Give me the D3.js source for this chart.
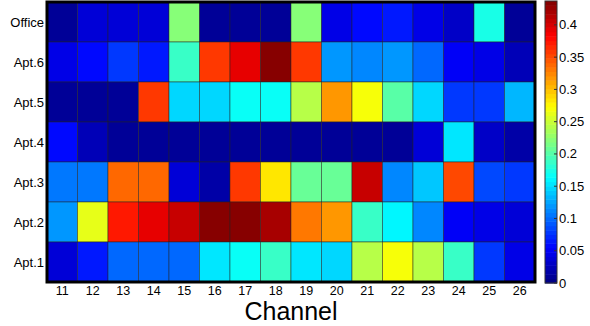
<!DOCTYPE html>
<html>
<head>
<meta charset="utf-8">
<script src="https://cdn.jsdelivr.net/npm/d3@7"></script>
<style>
  body { margin: 0; background: #fff; }
  text { font-family: "Liberation Sans", Arial, sans-serif; fill: #000; }
</style>
</head>
<body>
<svg id="chart" width="590" height="326"></svg>
<script>
const channels = [11, 12, 13, 14, 15, 16, 17, 18, 19, 20, 21, 22, 23, 24, 25, 26];
const locations = ['Office', 'Apt.6', 'Apt.5', 'Apt.4', 'Apt.3', 'Apt.2', 'Apt.1'];

// one row per location, one value per channel
const office = [0.01, 0.04, 0.04, 0.035, 0.22, 0.01, 0.01, 0.01, 0.22, 0.045, 0.06, 0.065, 0.045, 0.03, 0.175, 0.01];
const apt6 = [0.045, 0.058, 0.077, 0.062, 0.19, 0.36, 0.395, 0.437, 0.36, 0.12, 0.11, 0.12, 0.098, 0.05, 0.045, 0.025];
const apt5 = [0.01, 0.01, 0.008, 0.36, 0.15, 0.15, 0.164, 0.165, 0.245, 0.315, 0.268, 0.2, 0.148, 0.077, 0.08, 0.13];
const apt4 = [0.055, 0.025, 0.012, 0.012, 0.01, 0.01, 0.01, 0.01, 0.01, 0.01, 0.01, 0.01, 0.04, 0.155, 0.03, 0.02];
const apt3 = [0.105, 0.105, 0.338, 0.335, 0.04, 0.018, 0.36, 0.285, 0.207, 0.207, 0.405, 0.113, 0.142, 0.355, 0.085, 0.077];
const apt2 = [0.12, 0.26, 0.375, 0.395, 0.405, 0.437, 0.437, 0.422, 0.33, 0.315, 0.186, 0.16, 0.113, 0.05, 0.045, 0.04];
const apt1 = [0.04, 0.062, 0.098, 0.1, 0.098, 0.155, 0.165, 0.19, 0.155, 0.145, 0.24, 0.273, 0.24, 0.19, 0.077, 0.045];
const rows = [office, apt6, apt5, apt4, apt3, apt2, apt1];

const colorMax = 0.437;
const cbTicks = [0, 0.05, 0.1, 0.15, 0.2, 0.25, 0.3, 0.35, 0.4];

const svg = d3.select('#chart');
const margin = { left: 47, top: 2, right: 55, bottom: 44 };
const width = 535 - margin.left;
const height = 282 - margin.top;

// MATLAB-style jet, 64 levels
const jet = t => {
  const c = v => Math.max(0, Math.min(1, v));
  const r = c(1.5 - Math.abs(4 * t - 3));
  const g = c(1.5 - Math.abs(4 * t - 2));
  const b = c(1.5 - Math.abs(4 * t - 1));
  return d3.rgb(r * 255, g * 255, b * 255).toString();
};
const nLevels = 64;
const color = v => {
  const idx = Math.min(nLevels - 1, Math.floor((v / colorMax) * nLevels));
  return jet((idx + 0.5) / nLevels);
};

const x = d3.scaleBand().domain(channels).range([0, width]);
const y = d3.scaleBand().domain(locations).range([0, height]);

const g = svg.append('g').attr('transform', `translate(${margin.left},${margin.top})`);

const cells = [];
rows.forEach((vals, i) => vals.forEach((v, j) => cells.push({ loc: locations[i], ch: channels[j], v })));

g.selectAll('rect.cell')
  .data(cells)
  .enter()
  .append('rect')
  .attr('class', 'cell')
  .attr('x', d => x(d.ch))
  .attr('y', d => y(d.loc))
  .attr('width', x.bandwidth())
  .attr('height', y.bandwidth())
  .attr('fill', d => color(d.v))
  .attr('stroke', '#222')
  .attr('stroke-opacity', 0.6)
  .attr('stroke-width', 0.8);

// frame
g.append('rect')
  .attr('width', width)
  .attr('height', height)
  .attr('fill', 'none')
  .attr('stroke', '#000')
  .attr('stroke-width', 3);

// x tick labels
g.selectAll('text.xt')
  .data(channels)
  .enter()
  .append('text')
  .attr('class', 'xt')
  .attr('x', d => x(d) + x.bandwidth() / 2)
  .attr('y', height + 13)
  .attr('text-anchor', 'middle')
  .style('font-size', '12.5px')
  .text(d => d);

// y tick labels
g.selectAll('text.yt')
  .data(locations)
  .enter()
  .append('text')
  .attr('class', 'yt')
  .attr('x', -3)
  .attr('y', d => y(d) + y.bandwidth() / 2)
  .attr('dy', '0.35em')
  .attr('text-anchor', 'end')
  .style('font-size', '13px')
  .text(d => d);

svg.append('text')
  .attr('x', margin.left + width / 2)
  .attr('y', 320)
  .attr('text-anchor', 'middle')
  .style('font-size', '25px')
  .text('Channel');

// Colorbar
const cbX = 545, cbW = 12, cbTop = 1, cbBottom = 283;
const cy = d3.scaleLinear().domain([0, colorMax]).range([cbBottom, cbTop]);
const levels = d3.range(nLevels);
svg.append('g')
  .selectAll('rect')
  .data(levels)
  .enter()
  .append('rect')
  .attr('x', cbX)
  .attr('y', i => cy(((i + 1) / nLevels) * colorMax))
  .attr('width', cbW)
  .attr('height', i => cy((i / nLevels) * colorMax) - cy(((i + 1) / nLevels) * colorMax) + 0.5)
  .attr('fill', i => jet((i + 0.5) / nLevels));

svg.append('rect')
  .attr('x', cbX)
  .attr('y', cbTop)
  .attr('width', cbW)
  .attr('height', cbBottom - cbTop)
  .attr('fill', 'none')
  .attr('stroke', '#333')
  .attr('stroke-width', 1);

const cbAxis = svg.append('g');
cbAxis.selectAll('line')
  .data(cbTicks)
  .enter()
  .append('line')
  .attr('x1', cbX + cbW - 3)
  .attr('x2', cbX + cbW)
  .attr('y1', d => cy(d))
  .attr('y2', d => cy(d))
  .attr('stroke', '#333');
cbAxis.selectAll('text')
  .data(cbTicks)
  .enter()
  .append('text')
  .attr('x', cbX + cbW + 2)
  .attr('y', d => cy(d))
  .attr('dy', '0.35em')
  .style('font-size', '13px')
  .text(d => d);
</script>
</body>
</html>
